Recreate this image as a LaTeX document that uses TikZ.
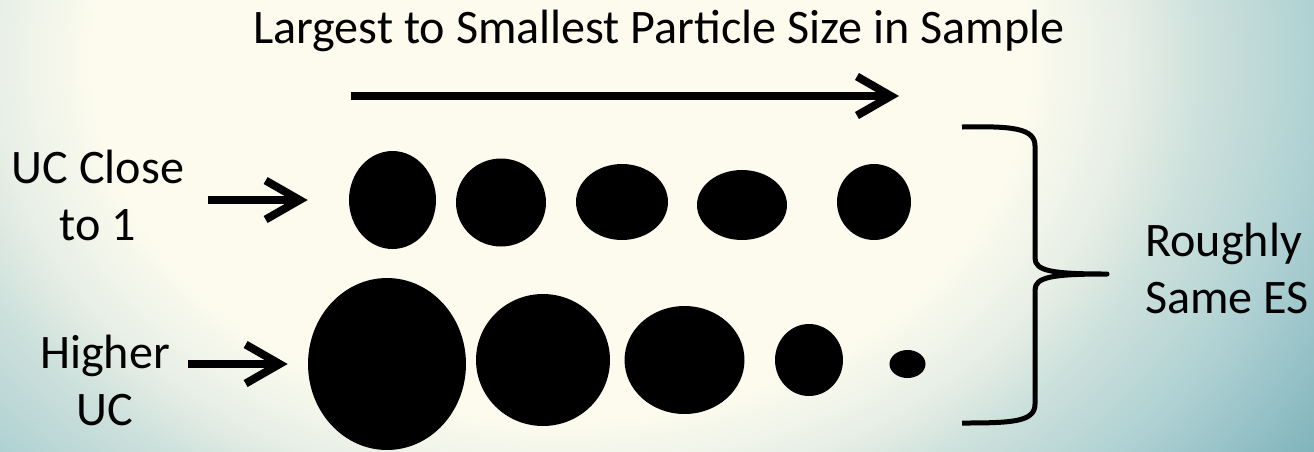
\documentclass[tikz,border=0pt]{standalone}
\usepackage{fontspec}
\setmainfont{Carlito}
\usetikzlibrary{arrows.meta, positioning, shapes.geometric}
\definecolor{fondoCrema}{HTML}{FCFBEE}
\definecolor{fondoPalido}{HTML}{E8EFE6}
\definecolor{fondoNiebla}{HTML}{CEE1DC}
\definecolor{fondoMar}{HTML}{AFD1D3}
\definecolor{fondoProfundo}{HTML}{80B4BC}
\pgfdeclareradialshading{fondoRadial}{\pgfpoint{0bp}{0bp}}{%
  color(0bp)=(fondoCrema); color(12.5bp)=(fondoCrema); color(15.1bp)=(fondoPalido);
  color(17.1bp)=(fondoNiebla); color(20.2bp)=(fondoMar); color(24.3bp)=(fondoProfundo);
  color(50bp)=(fondoProfundo)}
\tikzset{
  particula/.style={ellipse, fill=black, inner sep=0pt},
  etiqueta/.style={font=\fontsize{27.4}{32.4}\selectfont, align=center, inner sep=0pt},
  flecha/.style={line width=0.16cm, -{Straight Barb[length=0.68cm, width=0.78cm]}},
  llave/.style={line width=0.1cm, line join=round},
}

\begin{document}
\begin{tikzpicture}[x=0.02cm, y=-0.02cm]
  \useasboundingbox (0,0) rectangle (1314,451);
  % fondo
  \begin{scope}
    \clip (0,0) rectangle (1314,451);
    \shade[shading=fondoRadial] (-376,-660) rectangle (1496,780);
  \end{scope}

  % titulo y flecha de escala
  \node[etiqueta, anchor=base] (titulo) at (659,43) {Largest to Smallest Particle Size in Sample};
  \coordinate (escalaIni) at (351,96);
  \coordinate (escalaFin) at (899,96);
  \draw[flecha] (escalaIni) -- (escalaFin);

  % fila superior
  \node[particula, minimum width=1.74cm, minimum height=1.96cm] (t1) at (392.5,200) {};
  \node[particula, minimum width=1.80cm, minimum height=1.76cm] (t2) at (501,202.5) {};
  \node[particula, minimum width=1.84cm, minimum height=1.52cm] (t3) at (622,202) {};
  \node[particula, minimum width=1.80cm, minimum height=1.40cm] (t4) at (742,205) {};
  \node[particula, minimum width=1.48cm, minimum height=1.52cm] (t5) at (874,202) {};

  % fila inferior
  \node[particula, minimum width=3.16cm, minimum height=3.44cm] (b1) at (387,364) {};
  \node[particula, minimum width=2.68cm, minimum height=2.64cm] (b2) at (543,360) {};
  \node[particula, minimum width=2.40cm, minimum height=2.16cm] (b3) at (684.5,360) {};
  \node[particula, minimum width=1.36cm, minimum height=1.44cm] (b4) at (809,360) {};
  \node[particula, minimum width=0.72cm, minimum height=0.56cm] (b5) at (907.5,364) {};

  % etiquetas laterales
  \node[etiqueta, anchor=base] (ucClose) at (98,240) {UC Close\\to 1};
  \node[etiqueta, anchor=base] (ucAlto) at (105,425) {Higher\\UC};
  \draw[flecha, shorten <=0.46cm, shorten >=0.82cm] (ucClose.east |- t1.west) -- (t1.west);
  \draw[flecha, shorten <=0.36cm, shorten >=0.40cm] (ucAlto.east |- b1.west) -- (b1.west);

  % llave
  \draw[llave] (962,127) .. controls (1012,126) and (1035,128) .. (1035,146)
    -- (1035,258) .. controls (1035,271) and (1052,274) .. (1107,274)
    .. controls (1052,274) and (1035,277) .. (1035,290)
    -- (1035,404) .. controls (1035,422) and (1012,423) .. (962,423);
  \node[etiqueta, align=left, anchor=base west] (mismoES) at (1145,313) {Roughly\\Same ES};
\end{tikzpicture}
\end{document}
